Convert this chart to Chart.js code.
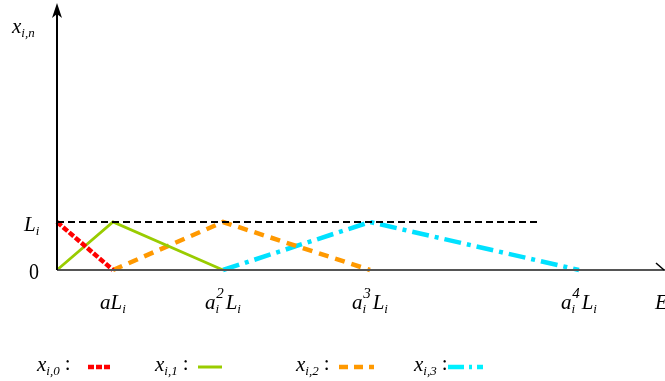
<!DOCTYPE html>
<html>
<head>
<meta charset="utf-8">
<script src="https://cdn.jsdelivr.net/npm/chart.js@4"></script>
<style>
  html, body { margin: 0; padding: 0; background: #fff; }
  #wrap { width: 665px; height: 381px; position: relative; }
</style>
</head>
<body>
<div id="wrap"><canvas id="grafico"></canvas></div>
<script>
// posições dos pontos no eixo E (0, aL, a^2L, a^3L, a^4L)
const posicoesX = [0, 56, 166, 313, 522];
const rotulosX = ['aL', 'a2L', 'a3L', 'a4L'];
// valores de cada serie (0 ou L_i = 1)
const valoresX0 = [1, 0];
const valoresX1 = [0, 1, 0];
const valoresX2 = [0, 1, 0];
const valoresX3 = [0, 1, 0];
const linhaLimite = [1, 1];
const fimLimite = 480;

function pontos(xs, ys) {
    return ys.map((y, i) => ({ x: xs[i], y: y }));
}

const fonte = '"Liberation Serif", "DejaVu Serif", serif';

// escreve texto com indices (sub/sobrescrito)
function escrever(ctx, x, y, partes) {
    let cx = x;
    partes.forEach(p => {
        ctx.font = 'italic ' + p.s + 'px ' + fonte;
        ctx.fillText(p.t, cx, y + (p.dy || 0));
        cx += ctx.measureText(p.t).width + (p.gap || 0);
    });
    return cx;
}

function rotuloTick(tipo) {
    if (tipo === 'aL') return [{ t: 'a', s: 21 }, { t: 'L', s: 21 }, { t: 'i', s: 13, dy: 4 }];
    const n = tipo.charAt(1);
    return [{ t: 'a', s: 21 }, { t: 'i', s: 13, dy: 4, gap: -3 }, { t: n, s: 15, dy: -11, gap: 2 }, { t: 'L', s: 21 }, { t: 'i', s: 13, dy: 4 }];
}

const desenhoEixos = {
    id: 'desenhoEixos',
    afterDraw(chart) {
        const ctx = chart.ctx;
        const sx = chart.scales.x, sy = chart.scales.y;
        const x0 = sx.getPixelForValue(0), y0 = sy.getPixelForValue(0);
        ctx.save();
        // eixo x
        ctx.strokeStyle = '#555';
        ctx.lineWidth = 2;
        ctx.beginPath();
        ctx.moveTo(x0, y0);
        ctx.lineTo(665, y0);
        ctx.stroke();
        ctx.lineWidth = 1.5;
        ctx.strokeStyle = '#000';
        ctx.beginPath();
        ctx.moveTo(656, y0 - 7);
        ctx.lineTo(664, y0);
        ctx.stroke();
        // eixo y
        ctx.strokeStyle = '#000';
        ctx.lineWidth = 2;
        ctx.beginPath();
        ctx.moveTo(x0, y0);
        ctx.lineTo(x0, 12);
        ctx.stroke();
        ctx.fillStyle = '#000';
        ctx.beginPath();
        ctx.moveTo(x0, 3);
        ctx.lineTo(x0 - 5, 18);
        ctx.lineTo(x0, 14);
        ctx.lineTo(x0 + 5, 18);
        ctx.closePath();
        ctx.fill();

        // rotulos
        ctx.fillStyle = '#000';
        ctx.textBaseline = 'alphabetic';
        escrever(ctx, 12, 33, [{ t: 'x', s: 21 }, { t: 'i,n', s: 13, dy: 4 }]);
        escrever(ctx, 24, 231, [{ t: 'L', s: 21 }, { t: 'i', s: 13, dy: 4 }]);
        // "0" um pouco esticado na vertical
        ctx.save();
        ctx.translate(29, 279);
        ctx.scale(1, 1.15);
        ctx.font = '20px ' + fonte;
        ctx.fillText('0', 0, 0);
        ctx.restore();
        rotulosX.forEach((r, i) => {
            const px = sx.getPixelForValue(posicoesX[i + 1]);
            const partes = rotuloTick(r);
            // largura total
            let w = 0;
            partes.forEach(p => { ctx.font = 'italic ' + p.s + 'px ' + fonte; w += ctx.measureText(p.t).width + (p.gap || 0); });
            escrever(ctx, px - w / 2, 309, partes);
        });
        escrever(ctx, 655, 309, [{ t: 'E', s: 21 }]);

        // legenda
        const legenda = [
            { nome: '0', x: 37, cor: 'rgb(255,0,0)', dash: [6, 2], ini: 88, fim: 112, lw: 4.5 },
            { nome: '1', x: 155, cor: 'rgb(153,204,0)', dash: [], ini: 198, fim: 222, lw: 3 },
            { nome: '2', x: 296, cor: 'rgb(255,153,0)', dash: [9, 6], ini: 339, fim: 374, lw: 4.5 },
            { nome: '3', x: 414, cor: 'rgb(0,240,255)', dash: [16, 5, 3, 5], ini: 448, fim: 483, lw: 4.5 }
        ];
        legenda.forEach(l => {
            ctx.fillStyle = '#000';
            const fx = escrever(ctx, l.x, 371, [{ t: 'x', s: 21 }, { t: 'i,' + l.nome, s: 13, dy: 4 }]);
            ctx.font = '21px ' + fonte;
            ctx.fillText(':', fx + 5, 370);
            ctx.strokeStyle = l.cor;
            ctx.lineWidth = l.lw;
            ctx.setLineDash(l.dash);
            ctx.beginPath();
            ctx.moveTo(l.ini, 367);
            ctx.lineTo(l.fim, 367);
            ctx.stroke();
            ctx.setLineDash([]);
        });
        ctx.restore();
    }
};

function serie(xs, ys, cor, largura, traco) {
    return {
        data: pontos(xs, ys),
        borderColor: cor,
        borderWidth: largura,
        borderDash: traco,
        pointRadius: 0,
        tension: 0,
        fill: false,
        clip: false
    };
}

new Chart(document.getElementById('grafico'), {
    type: 'line',
    data: {
        datasets: [
            serie([0, fimLimite], linhaLimite, '#000', 2.2, [7, 4]),
            serie(posicoesX.slice(0, 2), valoresX0, 'rgb(255,0,0)', 4.5, [6, 2]),
            serie(posicoesX.slice(0, 3), valoresX1, 'rgb(153,204,0)', 2.8, []),
            serie(posicoesX.slice(1, 4), valoresX2, 'rgb(255,153,0)', 4.5, [10, 7]),
            serie(posicoesX.slice(2, 5), valoresX3, 'rgb(0,225,255)', 4.5, [17, 6, 4, 6])
        ]
    },
    options: {
        responsive: true,
        maintainAspectRatio: false,
        animation: false,
        layout: { padding: { left: 57, top: 5, right: 5, bottom: 111 } },
        scales: {
            x: { type: 'linear', min: 0, max: 603, display: false },
            y: { type: 'linear', min: 0, max: 5.52, display: false }
        },
        plugins: {
            legend: { display: false },
            tooltip: { enabled: false }
        }
    },
    plugins: [desenhoEixos]
});
</script>
</body>
</html>
